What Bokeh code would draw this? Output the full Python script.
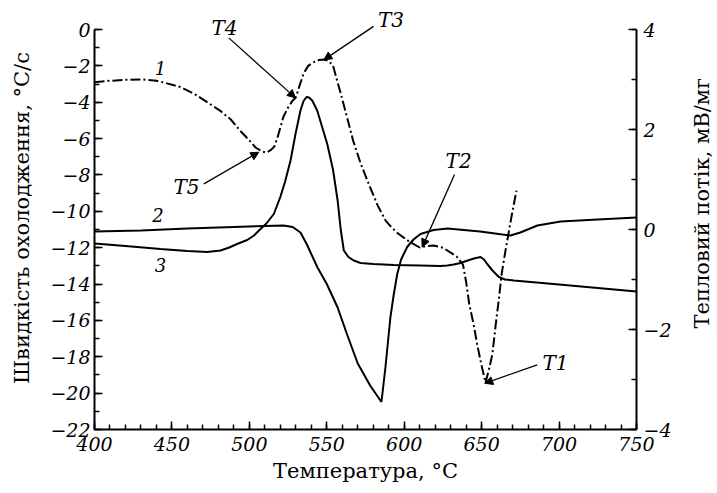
import math
from bokeh.plotting import figure
from bokeh.layouts import row
from bokeh.models import (Range1d, LinearAxis, Arrow, NormalHead,
                          SingleIntervalTicker, CustomJSTickFormatter)
from bokeh.core.properties import value
from bokeh.embed import file_html
from bokeh.resources import INLINE

# ---- data ----
# curve 1: cooling rate, degC/s (left axis)
t1 = [400, 410, 420, 431, 440, 445, 455, 464, 472, 481, 488, 494, 500, 504, 508, 511,
      514, 516, 518, 520, 522, 525, 528, 530, 532, 535, 538, 541, 545, 548, 551, 554,
      556, 559, 563, 567, 572, 578, 583, 588, 592, 596, 603, 610, 614, 619, 625, 630,
      634, 638, 640, 642, 645, 647, 650, 652.5, 655, 657, 659, 661, 663, 665.4, 668,
      670, 672.5]
v1 = [-2.90, -2.82, -2.77, -2.75, -2.82, -2.92, -3.15, -3.52, -3.95, -4.46, -4.95,
      -5.56, -6.10, -6.49, -6.70, -6.77, -6.62, -6.45, -6.00, -5.39, -4.80, -4.29,
      -3.90, -3.74, -3.20, -2.42, -2.00, -1.82, -1.68, -1.65, -1.72, -1.98, -2.60,
      -3.52, -4.80, -6.11, -7.40, -8.69, -9.70, -10.51, -10.90, -11.22, -11.65,
      -11.99, -11.92, -11.88, -12.00, -12.27, -12.50, -12.95, -13.90, -15.10, -16.30,
      -17.27, -18.50, -19.42, -18.60, -17.82, -16.30, -14.91, -13.40, -12.16, -10.90,
      -9.96, -8.86]

# curve 2: heat flow, mV/mg (right axis)
t2 = [400, 430, 460, 490, 510, 522, 528, 533, 537, 544, 550, 557, 563, 570, 578, 585.3,
      587.9, 591.1, 593.3, 595.5, 598, 601.9, 606, 610.5, 619, 628, 649, 668.6, 675,
      686, 701, 725, 750]
v2 = [-0.04, -0.02, 0.02, 0.05, 0.07, 0.08, 0.05, -0.06, -0.29, -0.76, -1.09, -1.56,
      -2.09, -2.68, -3.12, -3.45, -2.75, -1.75, -1.29, -0.89, -0.60, -0.35, -0.20,
      -0.09, -0.01, 0.02, -0.04, -0.12, -0.06, 0.08, 0.16, 0.20, 0.24]

# curve 3: heat flow, mV/mg (right axis)
t3 = [400, 420, 442.6, 460, 472.8, 481.4, 487, 492.1, 498.6, 503, 507.2, 511, 515.8,
      520, 523, 526.6, 529.8, 533, 535, 536.9, 538.5, 540.6, 543.8, 547, 550.3, 554,
      557, 559, 561, 564, 567.4, 571.8, 580, 593.3, 610, 623.4, 627.8, 632, 636.3,
      641, 645, 649.3, 651.5, 653.6, 657, 661.1, 665, 670.8, 700, 725, 750]
v3 = [-0.28, -0.33, -0.39, -0.43, -0.45, -0.42, -0.36, -0.29, -0.21, -0.12, 0.01,
      0.12, 0.31, 0.65, 0.95, 1.38, 1.91, 2.38, 2.57, 2.65, 2.64, 2.58, 2.38, 2.05,
      1.71, 1.20, 0.58, 0.0, -0.42, -0.55, -0.62, -0.67, -0.69, -0.71, -0.72, -0.73,
      -0.72, -0.70, -0.67, -0.62, -0.58, -0.55, -0.60, -0.69, -0.82, -0.95, -1.00,
      -1.02, -1.10, -1.17, -1.24]

x_ticks_step = 50
left_ticks_step = 2
right_ticks_step = 2

SERIF = "DejaVu Serif"
RIGHT_TITLE = "Тепловий потік, мВ/мг"

p = figure(width=690, height=493, output_backend="svg", toolbar_location=None,
           x_range=Range1d(400, 750), y_range=Range1d(-22, 1.265),
           min_border_left=94, min_border_right=54, min_border_top=6,
           min_border_bottom=64)
p.extra_y_ranges = {"hf": Range1d(-4, 4.46)}
p.outline_line_color = None
p.grid.visible = False
p.background_fill_color = "white"

minus_fmt = CustomJSTickFormatter(code="""
return tick < 0 ? '\u2212' + Math.abs(tick) : String(tick);
""")

def style_axis(ax):
    ax.axis_line_width = 2
    ax.axis_line_color = "black"
    ax.major_tick_line_width = 1.5
    ax.minor_tick_line_width = 1.5
    ax.major_tick_in = 8
    ax.major_tick_out = 0
    ax.minor_tick_in = 5
    ax.minor_tick_out = 0
    ax.major_label_text_font = SERIF
    ax.major_label_text_font_style = "italic"
    ax.major_label_text_font_size = "19px"
    ax.major_label_text_color = "black"
    ax.axis_label_text_font = SERIF
    ax.axis_label_text_font_style = "normal"
    ax.axis_label_text_font_size = "21px"
    ax.axis_label_text_color = "black"
    ax.formatter = minus_fmt

xa = p.xaxis[0]
style_axis(xa)
xa.ticker = SingleIntervalTicker(interval=x_ticks_step, num_minor_ticks=5)
xa.axis_label = "Температура, °C"
xa.major_label_standoff = 7
xa.axis_label_standoff = 5

ya = p.yaxis[0]
style_axis(ya)
ya.bounds = (-22, 0)
ya.ticker = SingleIntervalTicker(interval=left_ticks_step, num_minor_ticks=2)
ya.axis_label = "Швидкість охолодження, °C/с"
ya.major_label_standoff = 4
ya.axis_label_standoff = 13

ra = LinearAxis(y_range_name="hf", bounds=(-4, 4))
style_axis(ra)
ra.ticker = SingleIntervalTicker(interval=right_ticks_step, num_minor_ticks=2)
ra.major_label_standoff = 7
p.add_layout(ra, "right")

# curves
p.line(t1, v1, line_color="black", line_width=2, line_dash="10 3 2 3")
p.line(t2, v2, line_color="black", line_width=2, y_range_name="hf")
p.line(t3, v3, line_color="black", line_width=2, y_range_name="hf")

# annotations
lab_x = [483.9, 591.5, 459.4, 635.1, 697.7]
lab_y = [0.08, 0.50, -8.64, -7.21, -18.34]
lab_t = ["T4", "T3", "T5", "T2", "T1"]
p.text(x=lab_x, y=lab_y, text=lab_t, text_font=value(SERIF), text_font_style="italic",
       text_font_size="20px", text_align="center", text_baseline="middle",
       text_color="black")

num_x = [442.6, 441.0, 442.6]
num_y = [-2.12, -10.18, -12.93]
num_t = ["1", "2", "3"]
p.text(x=num_x, y=num_y, text=num_t, text_font=value(SERIF), text_font_style="italic",
       text_font_size="18px", text_align="center", text_baseline="middle",
       text_color="black")

arrows = [
    (486.7, -0.46, 529.8, -3.76),
    (580.2, 0.17, 548.1, -1.67),
    (470.6, -8.49, 506.1, -6.75),
    (632.5, -7.98, 611.6, -11.97),
    (685.9, -18.44, 652.0, -19.46),
]
for xs, ys, xe, ye in arrows:
    p.add_layout(Arrow(end=NormalHead(size=8, fill_color="black", line_color="black",
                                      line_width=1),
                       x_start=xs, y_start=ys, x_end=xe, y_end=ye,
                       line_width=1.3, line_color="black"))

# narrow strip holding the right-hand axis title (reads bottom-to-top)
p2 = figure(width=27, height=493, output_backend="svg", toolbar_location=None,
            x_range=Range1d(0, 1), y_range=Range1d(0, 1), min_border=0,
            x_axis_location=None, y_axis_location=None)
p2.title = None
p2.grid.visible = False
p2.outline_line_color = None
p2.text(x=[0.41], y=[0.535], text=[RIGHT_TITLE], angle=math.pi / 2,
        text_font=value(SERIF), text_font_size="21px", text_align="center",
        text_baseline="middle", text_color="black")

layout = row(p, p2, spacing=0)
open("out.html", "w").write(file_html(layout, INLINE))
